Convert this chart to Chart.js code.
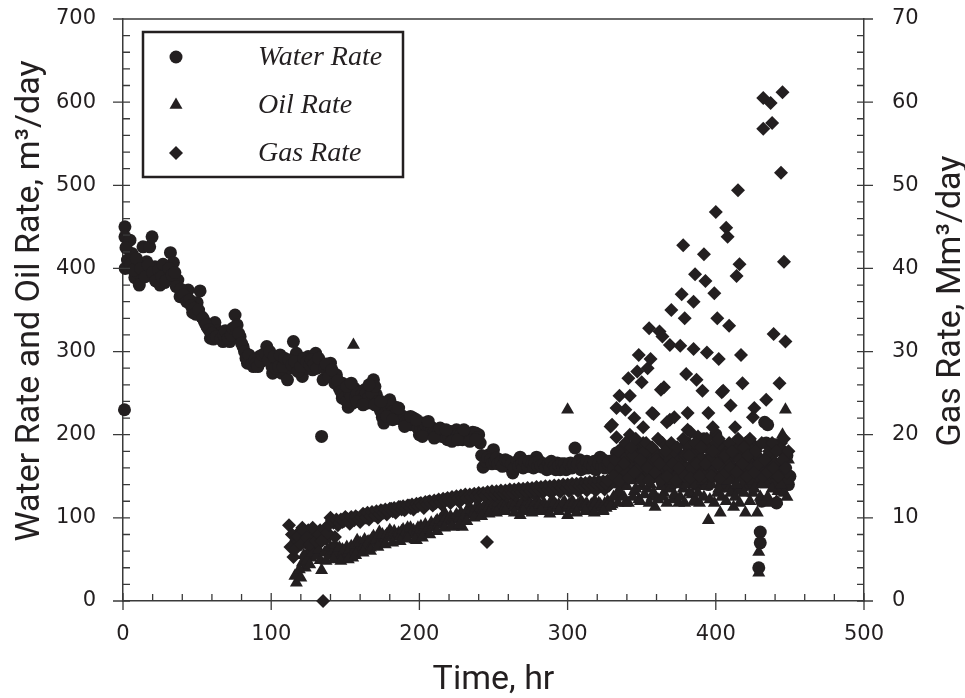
<!DOCTYPE html>
<html>
<head>
<meta charset="utf-8">
<script src="https://cdn.jsdelivr.net/npm/chart.js@4.4.1/dist/chart.umd.min.js"></script>
<style>
  body { margin: 0; background: #fff; }
</style>
</head>
<body>
<canvas id="chart" width="965" height="698"></canvas>
<script>
// values: [time hr, rate]
const waterPoints = [
  [1, 230], [1.3, 450], [1.3, 438], [1.5, 400], [3, 410], [4.7, 434], [6, 418], [8, 389], [10, 395],
  [11, 380], [13.5, 426], [14, 398], [16, 408], [18, 426], [19.6, 438], [21.6, 402], [23, 392],
  [25, 380], [28, 383], [30, 395], [32, 419], [34, 407], [37, 386], [38.5, 366], [40, 372], [42, 365],
  [44, 374], [47, 347], [50, 359], [52, 373], [53, 342], [55, 336], [57, 329], [59, 316], [62, 335],
  [64, 325], [65.5, 322], [67.5, 312], [70, 318], [72, 312], [75.6, 344], [77, 332], [79, 318],
  [81, 306], [84, 286], [86, 290], [88, 282], [92, 294], [95, 290], [97, 306], [100.5, 282], [101, 274],
  [104, 288], [107, 274], [110, 286], [111, 266], [113, 280], [115, 312], [117, 298], [119, 285],
  [121, 270], [123, 280], [125, 294], [128, 278], [130, 298], [133, 286], [134, 198], [135, 266],
  [138, 276], [140, 286], [142, 270], [144, 272], [146, 256], [148, 262], [148, 244], [152, 233],
  [155, 238], [156, 256], [160, 252], [163, 254], [165, 238], [169, 266], [171, 248], [175, 221],
  [176, 214], [180, 242], [184, 233], [187, 224], [190, 220], [192, 212], [196, 220], [200, 200],
  [202, 214], [205, 210], [209, 208], [212, 206], [216, 203], [219, 194], [222, 202], [225, 206],
  [229, 194], [232, 200], [236, 203], [240, 200], [241, 190], [243, 161], [244, 173], [247, 176],
  [250, 182], [254, 170], [257, 168], [259, 166], [261, 161], [263, 154], [265, 165], [268, 173],
  [272, 166], [275, 162], [279, 173], [283, 161], [286, 158], [290, 164], [293, 166], [295, 158],
  [300, 161], [302, 166], [305, 184], [308, 170], [312, 160], [316, 166], [319, 158], [322, 173],
  [326, 166], [329, 160], [332, 170], [335, 158], [338, 176], [341, 150], [344, 165], [347, 182],
  [350, 160], [353, 172], [356, 148], [359, 178], [362, 155], [365, 168], [368, 185], [371, 150],
  [374, 172], [377, 160], [380, 190], [383, 146], [386, 175], [389, 162], [392, 195], [395, 140],
  [398, 170], [400, 200], [402, 178], [405, 150], [408, 186], [411, 160], [414, 135], [417, 170],
  [420, 155], [423, 192], [426, 145], [428, 165], [429, 40], [430, 83], [430, 70], [431, 120],
  [433, 215], [435, 212], [436, 175], [438, 150], [440, 188], [441, 118], [442, 135], [444, 165],
  [446, 146], [448, 175], [450, 150],
  [2, 425], [5, 405], [7, 398], [9, 412], [12, 400], [15, 390], [17, 404], [20, 395], [22, 385],
  [24, 398], [26, 390], [27, 405], [29, 385], [31, 400], [33, 392], [35, 395], [36, 378], [39, 375],
  [41, 368], [43, 360], [45, 362], [46, 355], [48, 352], [49, 345], [51, 350], [54, 340], [56, 332],
  [58, 326], [60, 322], [61, 315], [63, 318], [66, 315], [68, 320], [69, 325], [71, 316], [73, 320],
  [74, 328], [76, 330], [78, 322], [80, 310], [82, 300], [83, 292], [85, 296], [87, 285], [89, 290],
  [90, 286], [91, 282], [93, 288], [94, 296], [96, 298], [98, 290], [99, 300], [102, 294], [103, 280],
  [105, 282], [106, 296], [108, 282], [109, 292], [112, 290], [114, 284], [116, 288], [118, 276],
  [120, 282], [122, 292], [124, 288], [126, 284], [127, 290], [129, 285], [131, 280], [132, 292],
  [136, 280], [137, 285], [139, 270], [141, 278], [143, 262], [145, 265], [147, 252], [149, 250],
  [150, 245], [151, 240], [153, 250], [154, 246], [157, 245], [158, 250], [159, 240], [161, 248],
  [162, 244], [164, 250], [166, 245], [167, 255], [168, 250], [170, 258], [172, 240], [173, 232],
  [174, 228], [177, 226], [178, 238], [179, 234], [181, 236], [182, 228], [183, 225], [185, 228],
  [186, 220], [188, 218], [189, 222], [191, 216], [193, 218], [194, 212], [195, 214], [197, 215],
  [198, 210], [199, 208], [201, 208], [203, 205], [204, 212], [206, 206], [207, 208], [208, 204],
  [210, 205], [211, 202], [213, 204], [214, 200], [215, 198], [217, 200], [218, 196], [220, 198],
  [221, 204], [223, 200], [224, 198], [226, 200], [227, 195], [228, 200], [230, 198], [231, 202],
  [233, 198], [234, 196], [235, 200], [237, 198], [238, 202], [239, 196], [242, 175], [245, 168],
  [246, 172], [248, 170], [249, 165], [251, 168], [252, 172], [253, 165], [255, 168], [256, 162],
  [258, 170], [260, 168], [262, 165], [264, 160], [266, 168], [267, 162], [269, 165], [270, 160],
  [271, 168], [273, 162], [274, 168], [276, 165], [277, 160], [278, 166], [280, 162], [281, 168],
  [282, 163], [284, 165], [285, 160], [287, 165], [288, 160], [289, 168], [291, 162], [292, 158],
  [294, 163], [296, 165], [297, 160], [298, 165], [299, 158], [301, 165], [303, 160], [304, 164],
  [306, 162], [307, 165], [309, 158], [310, 165], [311, 162], [313, 168], [314, 160], [315, 165],
  [317, 162], [318, 168], [320, 160], [321, 165], [323, 162], [324, 170], [325, 160], [327, 165],
  [328, 168],
  [151, 258], [154, 262], [158, 240], [162, 236], [166, 260], [170, 236], [174, 240], [178, 222],
  [182, 218], [186, 232], [190, 210], [194, 222], [198, 218], [202, 198], [206, 216], [210, 196],
  [214, 208], [218, 206], [222, 192], [226, 194], [230, 206], [234, 192], [238, 194],
  [331, 160], [333, 178], [334, 150], [336, 168], [337, 145], [339, 160], [340, 172], [342, 158],
  [343, 180], [345, 150], [346, 170], [348, 155], [349, 168], [351, 178], [352, 148], [354, 162],
  [355, 180], [357, 155], [358, 168], [360, 150], [361, 175], [363, 160], [364, 142], [366, 178],
  [367, 158], [369, 170], [370, 140], [372, 165], [373, 182], [375, 150], [376, 170], [378, 145],
  [379, 175], [381, 160], [382, 185], [384, 152], [385, 165], [387, 140], [388, 180], [390, 155],
  [391, 170], [393, 145], [394, 185], [396, 160], [397, 175], [399, 150], [401, 165], [403, 188],
  [404, 140], [406, 172], [407, 155], [409, 168], [410, 182], [412, 148], [413, 175], [415, 158],
  [416, 185], [418, 150], [419, 172], [421, 140], [422, 165], [424, 178], [425, 155], [427, 185],
  [429, 150], [432, 160], [434, 190], [437, 165], [439, 140], [443, 155], [445, 180], [447, 160],
  [449, 140]
];

const oilPoints = [
  [117, 22], [118, 31], [121, 46], [123, 40], [125, 59], [127, 52], [129, 65], [130, 61], [133, 49],
  [134, 37], [138, 62], [141, 58], [145, 55], [148, 62], [150, 53], [151, 65], [155, 52], [155.5, 308],
  [158, 73], [161, 68], [165, 71], [168, 75], [173, 83], [173, 71], [177, 78], [180, 85], [185, 77],
  [188, 84], [192, 88], [195, 80], [198, 73], [202, 82], [205, 86], [207, 89], [210, 92], [212, 97],
  [215, 100], [217, 106], [220, 95], [223, 89], [226, 98], [229, 89], [231, 104], [233, 112],
  [236, 105], [239, 113], [242, 108], [245, 112], [248, 116], [251, 110], [254, 114], [257, 118],
  [260, 112], [263, 117], [266, 119], [268, 103], [271, 114], [274, 119], [277, 112], [280, 120],
  [283, 115], [286, 110], [289, 120], [292, 116], [295, 112], [298, 119], [300, 103], [300, 230],
  [303, 120], [306, 114], [309, 120], [312, 116], [315, 110], [318, 120], [321, 118], [324, 109],
  [327, 120], [330, 116], [333, 128], [336, 140], [339, 118], [342, 150], [345, 132], [348, 122],
  [351, 145], [354, 135], [357, 125], [359, 113], [362, 148], [365, 130], [368, 140], [371, 122],
  [374, 155], [375, 118], [378, 135], [381, 145], [384, 128], [387, 119], [390, 150], [393, 138],
  [395, 97], [398, 158], [401, 130], [403, 106], [406, 145], [409, 135], [412, 113], [415, 160],
  [418, 140], [420, 106], [422, 150], [425, 130], [428, 106], [429, 59], [429, 34], [430, 125],
  [432, 165], [434, 140], [437, 118], [440, 155], [442, 132], [443, 185], [445, 160], [446, 130],
  [447, 230], [448, 145], [449, 170],
  [116, 30], [119, 38], [120, 28], [122, 55], [124, 48], [126, 44], [128, 58], [131, 55], [132, 62],
  [136, 58], [137, 48], [139, 55], [140, 65], [142, 60], [143, 68], [144, 58], [146, 64], [147, 52],
  [149, 60], [152, 58], [153, 62], [154, 66], [156, 60], [157, 68], [159, 62], [160, 70], [162, 65],
  [163, 74], [164, 66], [166, 72], [167, 64], [169, 78], [170, 70], [171, 74], [172, 78], [174, 74],
  [175, 80], [176, 72], [178, 80], [179, 76], [181, 82], [182, 78], [183, 84], [184, 80], [186, 82],
  [187, 78], [189, 86], [190, 80], [191, 84], [193, 82], [194, 88], [196, 85], [197, 80], [199, 88],
  [200, 84], [201, 90], [203, 86], [204, 92], [206, 88], [208, 94], [209, 90], [211, 95], [213, 92],
  [214, 98], [216, 95], [218, 100], [219, 96], [221, 102], [222, 98], [224, 100], [225, 104],
  [227, 100], [228, 106], [230, 100], [232, 108], [234, 104], [235, 110], [237, 106], [238, 112],
  [240, 108], [241, 112], [243, 110], [244, 115], [246, 110], [247, 114], [249, 112], [250, 116],
  [252, 112], [253, 118], [255, 112], [256, 116], [258, 114], [259, 118], [261, 112], [262, 116],
  [264, 113], [265, 118], [267, 114], [269, 118], [270, 112], [272, 116], [273, 110], [275, 117],
  [276, 113], [278, 118], [279, 112], [281, 116], [282, 110], [284, 118], [285, 114], [287, 112],
  [288, 117], [290, 113], [291, 118], [293, 112], [294, 116], [296, 114], [297, 118], [299, 112],
  [301, 116], [302, 110], [304, 118], [305, 113], [307, 116], [308, 112], [310, 118], [311, 114],
  [313, 117], [314, 112], [316, 116], [317, 113], [319, 118], [320, 112], [322, 116], [323, 113],
  [325, 117], [326, 112], [328, 118], [329, 114],
  [142, 50], [147, 48], [152, 50], [157, 55], [162, 58], [167, 60], [172, 65], [177, 68], [182, 70],
  [187, 72], [192, 75], [197, 74], [202, 76], [207, 80], [212, 84], [217, 88], [222, 90], [227, 92],
  [232, 96], [237, 100], [242, 102], [247, 105], [252, 106], [258, 108], [264, 106], [270, 108],
  [276, 106], [282, 108], [288, 105], [294, 108], [306, 106], [312, 108], [318, 106], [324, 108],
  [331, 125], [332, 140], [334, 118], [335, 132], [337, 150], [338, 125], [340, 138], [341, 118],
  [343, 145], [344, 125], [346, 135], [347, 155], [349, 120], [350, 138], [352, 128], [353, 150],
  [355, 118], [356, 140], [358, 130], [360, 150], [361, 122], [363, 138], [364, 125], [366, 152],
  [367, 118], [369, 135], [370, 145], [372, 128], [373, 140], [376, 125], [377, 150], [379, 118],
  [380, 140], [382, 130], [383, 155], [385, 120], [386, 140], [388, 130], [389, 118], [391, 145],
  [392, 125], [394, 150], [396, 122], [397, 140], [399, 118], [400, 150], [402, 135], [404, 125],
  [405, 158], [407, 120], [408, 145], [410, 130], [411, 150], [413, 125], [414, 140], [416, 118],
  [417, 150], [419, 130], [421, 160], [423, 120], [424, 145], [426, 135], [427, 155], [431, 140],
  [433, 150], [435, 125], [436, 160], [438, 135], [439, 170], [441, 120], [444, 140], [445, 200],
  [446, 175], [448, 125], [449, 150]
];

const gasPoints = [
  [112, 9.1], [113, 6.5], [115, 5.3], [117, 7.3], [119, 8.3], [121, 8.8], [123, 7.0], [125, 8.5],
  [127, 7.6], [129, 8.2], [131, 7.8], [133, 8.5], [135, 0], [137, 7.5], [140, 10.0], [142, 9.4],
  [143, 7.7], [145, 9.1], [148, 9.5], [151, 9.9], [153, 9.3], [155, 9.9], [158, 10.0], [160, 9.5],
  [163, 10.3], [166, 9.8], [169, 10.5], [172, 10.0], [175, 10.8], [178, 10.4], [181, 11.1],
  [184, 10.6], [187, 11.3], [190, 10.9], [193, 11.5], [196, 11.0], [200, 11.7], [203, 11.2],
  [206, 11.9], [209, 11.5], [212, 12.0], [215, 11.6], [218, 12.2], [221, 11.8], [224, 12.3],
  [227, 11.9], [230, 12.5], [233, 12.1], [236, 12.7], [239, 12.3], [242, 12.8], [245.6, 7.1],
  [247, 12.4], [250, 12.9], [253, 12.5], [256, 13.0], [259, 12.6], [262, 13.1], [265, 12.7],
  [268, 13.3], [271, 12.8], [274, 13.3], [277, 12.9], [280, 13.4], [283, 13.0], [286, 13.5],
  [289, 13.0], [292, 13.5], [295, 13.1], [298, 13.6], [301, 13.2], [304, 13.6], [307, 13.2],
  [310, 13.7], [313, 13.3], [316, 13.7], [319, 13.3], [322, 13.8], [325, 13.4], [328, 13.9],
  [329, 21.0], [330, 21.2], [332, 17.0], [333, 23.2], [333, 19.7], [335, 24.7], [336, 16.0],
  [337, 18.5], [339, 23.0], [340, 15.5], [341, 26.8], [342, 24.7], [342, 20.0], [344, 17.5],
  [345, 22.0], [347, 27.6], [348, 29.6], [348, 16.0], [350, 26.3], [351, 20.9], [351, 19.0],
  [352, 18.0], [354, 28.0], [355, 32.8], [356, 29.1], [356, 15.0], [357, 22.6], [358, 22.5],
  [360, 17.0], [362, 32.4], [363, 25.4], [364, 31.8], [364, 19.0], [365, 25.7], [367, 21.5],
  [368, 16.0], [369, 30.8], [369, 21.8], [370, 35.0], [372, 22.1], [372, 18.0], [376, 30.7],
  [376, 15.5], [377, 36.9], [378, 42.8], [379, 34.0], [380, 27.3], [380, 17.5], [381, 22.6],
  [381, 20.6], [383, 20.3], [384, 16.0], [385, 36.0], [385, 30.3], [386, 39.3], [387, 26.6],
  [388, 19.8], [388, 18.5], [391, 25.3], [392, 41.7], [392, 15.0], [393, 38.5], [394, 29.9],
  [395, 22.6], [396, 17.0], [398, 20.9], [399, 37.0], [400, 46.8], [400, 19.0], [401, 34.0],
  [402, 29.1], [404, 25.1], [404, 16.0], [405, 25.3], [407, 44.9], [408, 43.8], [408, 18.0],
  [409, 33.1], [410, 23.5], [412, 15.5], [413, 20.9], [414, 39.1], [415, 49.4], [416, 40.5],
  [416, 17.0], [417, 29.6], [418, 26.2], [420, 19.0], [424, 18.2], [424, 16.0], [425, 22.1],
  [426, 23.2], [428, 17.5], [432, 60.5], [432, 56.8], [432, 15.0], [434, 24.2], [436, 18.0],
  [437, 59.9], [438, 57.5], [439, 32.1], [440, 16.5], [443, 26.2], [444, 51.5], [444, 19.0],
  [445, 61.2], [446, 40.8], [447, 31.2], [448, 15.5],
  [114, 8.0], [116, 6.2], [118, 7.8], [120, 6.8], [122, 8.4], [124, 7.6], [126, 6.8], [128, 8.8],
  [130, 7.2], [132, 8.0], [134, 7.2], [136, 8.6], [138, 8.2],
  [139, 9.2], [141, 9.7], [144, 9.8], [146, 9.4], [147, 9.8], [149, 9.6], [150, 10.1], [152, 9.6],
  [154, 10.1], [156, 9.7], [157, 10.2], [159, 9.8], [161, 10.1], [162, 10.5], [164, 10.0],
  [165, 10.6], [167, 10.2], [168, 10.7], [170, 10.3], [171, 10.8], [173, 10.5], [174, 10.9],
  [176, 10.6], [177, 11.0], [179, 10.7], [180, 11.1], [182, 10.8], [183, 11.2], [185, 10.9],
  [186, 11.3], [188, 11.0], [189, 11.4], [191, 11.1], [192, 11.5], [194, 11.2], [195, 11.6],
  [197, 11.3], [198, 11.7], [199, 11.4], [201, 11.8], [202, 11.5], [204, 11.9], [205, 11.6],
  [207, 12.0], [208, 11.7], [210, 12.1], [211, 11.8], [213, 12.2], [214, 11.9], [216, 12.3],
  [217, 12.0], [219, 12.4], [220, 12.1], [222, 12.5], [223, 12.2], [225, 12.6], [226, 12.3],
  [228, 12.7], [229, 12.4], [231, 12.8], [232, 12.4], [234, 12.8], [235, 12.5], [237, 12.9],
  [238, 12.6], [240, 13.0], [241, 12.6], [243, 13.0], [244, 12.7], [246, 13.1], [248, 12.8],
  [249, 13.2], [251, 12.8], [252, 13.2], [254, 12.9], [255, 13.3], [257, 12.9], [258, 13.3],
  [260, 13.0], [261, 13.4], [263, 13.0], [264, 13.4], [266, 13.1], [267, 13.5], [269, 13.1],
  [270, 13.5], [272, 13.2], [273, 13.6], [275, 13.2], [276, 13.6], [278, 13.3], [279, 13.7],
  [281, 13.3], [282, 13.7], [284, 13.4], [285, 13.8], [287, 13.4], [288, 13.8], [290, 13.5],
  [291, 13.9], [293, 13.5], [294, 13.9], [296, 13.6], [297, 14.0], [299, 13.6], [300, 14.0],
  [302, 13.7], [303, 14.1], [305, 13.7], [306, 14.1], [308, 13.8], [309, 14.2], [311, 13.8],
  [312, 14.2], [314, 13.9], [315, 14.3], [317, 13.9], [318, 14.3], [320, 14.0], [321, 14.4],
  [323, 14.0], [324, 14.4], [326, 14.1], [327, 14.5],
  [331, 15.0], [334, 18.0], [335, 14.5], [338, 16.5], [339, 19.0], [341, 14.8], [343, 18.5],
  [345, 15.5], [346, 19.5], [349, 17.0], [350, 14.5], [353, 19.0], [354, 16.0], [355, 14.5],
  [357, 18.5], [359, 15.5], [361, 19.5], [362, 16.5], [363, 14.5], [366, 18.0], [367, 15.0],
  [370, 19.0], [371, 16.5], [373, 14.5], [374, 18.5], [375, 16.0], [378, 19.5], [379, 15.0],
  [382, 17.5], [383, 14.8], [386, 19.0], [387, 16.5], [389, 15.0], [390, 18.5], [393, 16.5],
  [394, 19.5], [397, 15.0], [398, 18.0], [401, 16.5], [402, 19.5], [403, 14.8], [406, 17.5],
  [407, 15.5], [409, 19.0], [410, 16.0], [411, 18.0], [414, 15.5], [415, 19.5], [418, 16.5],
  [419, 18.5], [421, 15.0], [422, 17.5], [423, 19.5], [426, 15.5], [427, 18.0], [429, 16.5],
  [431, 19.0], [433, 17.0], [435, 15.5], [438, 19.0], [439, 16.0], [441, 18.0], [442, 15.0],
  [445, 17.0], [446, 19.5], [447, 16.0], [449, 18.0]
];

const timeTicks = [0, 100, 200, 300, 400, 500];
const rateTicks = [0, 100, 200, 300, 400, 500, 600, 700];
const gasTicks = [0, 10, 20, 30, 40, 50, 60, 70];

const ink = '#231f20';
const axisColor = '#3a3a3a';
const tickFont = { family: 'DejaVu Sans', size: 21 };
const titleFace = "34px 'Liberation Sans Narrow', 'Roboto', sans-serif";
const titleFont = { family: "'Liberation Sans Narrow', 'Roboto', sans-serif", size: 34, lineHeight: 1 };

const toXY = pts => pts.map(p => ({ x: p[0], y: p[1] }));

function sideTitle(ctx, text, x, y) {
  ctx.save();
  ctx.fillStyle = ink;
  ctx.font = titleFace;
  ctx.textAlign = 'center';
  ctx.textBaseline = 'middle';
  ctx.translate(x, y);
  ctx.rotate(-Math.PI / 2);
  ctx.fillText(text, 0, 0);
  ctx.restore();
}

// inward minor ticks, crossing major ticks, top frame line, side titles
const axisFrame = {
  id: 'axisFrame',
  afterDraw(chart) {
    const { ctx, chartArea: a, scales } = chart;
    ctx.save();
    ctx.strokeStyle = axisColor;
    ctx.lineWidth = 1.3;
    ctx.beginPath();
    for (let v = 0; v <= 500; v += 20) {
      const px = scales.x.getPixelForValue(v);
      if (v % 100 === 0) { ctx.moveTo(px, a.bottom - 8); ctx.lineTo(px, a.bottom + 9); }
      else { ctx.moveTo(px, a.bottom - 7); ctx.lineTo(px, a.bottom); }
    }
    for (let v = 0; v <= 700; v += 20) {
      const py = scales.y.getPixelForValue(v);
      if (v % 100 === 0) { ctx.moveTo(a.left - 10, py); ctx.lineTo(a.left + 7, py); }
      else { ctx.moveTo(a.left, py); ctx.lineTo(a.left + 7, py); }
    }
    for (let v = 0; v <= 70; v += 2) {
      const py = scales.y2.getPixelForValue(v);
      if (v % 10 === 0) { ctx.moveTo(a.right - 7, py); ctx.lineTo(a.right + 9, py); }
      else { ctx.moveTo(a.right - 7, py); ctx.lineTo(a.right, py); }
    }
    ctx.moveTo(a.left, a.top);
    ctx.lineTo(a.right, a.top);
    ctx.stroke();
    ctx.restore();

    sideTitle(ctx, 'Water Rate and Oil Rate, m³/day', 30, 301);
    sideTitle(ctx, 'Gas Rate, Mm³/day', 951, 301);
  }
};

// boxed legend in the upper left of the plot
const boxLegend = {
  id: 'boxLegend',
  afterDraw(chart) {
    const { ctx } = chart;
    ctx.save();
    ctx.strokeStyle = ink;
    ctx.lineWidth = 2.5;
    ctx.strokeRect(143, 32, 260, 145);
    const rows = [57, 105, 153];
    chart.data.datasets.forEach((ds, i) => {
      ctx.fillStyle = ink;
      Chart.helpers.drawPoint(ctx, {
        pointStyle: ds.pointStyle, radius: ds.pointRadius, rotation: 0, borderWidth: 0
      }, 176, rows[i]);
      ctx.font = "italic 28px 'Liberation Serif', serif";
      ctx.textAlign = 'left';
      ctx.textBaseline = 'middle';
      ctx.fillText(ds.label, 258, rows[i] + 1);
    });
    ctx.restore();
  }
};

const noEdgePadding = s => { s.paddingTop = 0; s.paddingBottom = 0; s.paddingLeft = 0; s.paddingRight = 0; };

new Chart(document.getElementById('chart'), {
  type: 'scatter',
  data: {
    datasets: [
      {
        label: 'Water Rate', data: toXY(waterPoints), yAxisID: 'y', order: 2,
        pointStyle: 'circle', pointRadius: 6.5, backgroundColor: ink, borderWidth: 0, clip: false
      },
      {
        label: 'Oil Rate', data: toXY(oilPoints), yAxisID: 'y', order: 1,
        pointStyle: 'triangle', pointRadius: 7.5, backgroundColor: ink, borderWidth: 0, clip: false
      },
      {
        label: 'Gas Rate', data: toXY(gasPoints), yAxisID: 'y2', order: 0,
        pointStyle: 'rectRot', pointRadius: 7, backgroundColor: ink, borderWidth: 0, clip: false
      }
    ]
  },
  options: {
    responsive: false,
    animation: false,
    events: [],
    layout: { padding: { top: 19, left: 0, right: 0, bottom: 0 } },
    plugins: { legend: { display: false }, tooltip: { enabled: false } },
    scales: {
      x: {
        type: 'linear', min: 0, max: 500,
        afterBuildTicks: s => { s.ticks = timeTicks.map(v => ({ value: v })); },
        afterFit: s => { s.height = 97; noEdgePadding(s); },
        grid: { display: false, drawTicks: false },
        border: { display: true, color: axisColor, width: 1.5 },
        ticks: { font: tickFont, color: ink, padding: 21, maxRotation: 0 },
        title: { display: true, text: 'Time, hr', color: ink, font: titleFont, padding: { top: 0, bottom: 1 } }
      },
      y: {
        type: 'linear', position: 'left', min: 0, max: 700,
        afterBuildTicks: s => { s.ticks = rateTicks.map(v => ({ value: v })); },
        afterFit: s => { s.width = 123; noEdgePadding(s); },
        grid: { display: false, drawTicks: false },
        border: { display: true, color: axisColor, width: 1.5 },
        ticks: { font: tickFont, color: ink, padding: 27 }
      },
      y2: {
        type: 'linear', position: 'right', min: 0, max: 70,
        afterBuildTicks: s => { s.ticks = gasTicks.map(v => ({ value: v })); },
        afterFit: s => { s.width = 101; noEdgePadding(s); },
        grid: { display: false, drawTicks: false },
        border: { display: true, color: axisColor, width: 1.5 },
        ticks: { font: tickFont, color: ink, padding: 28 }
      }
    }
  },
  plugins: [axisFrame, boxLegend]
});
</script>
</body>
</html>
